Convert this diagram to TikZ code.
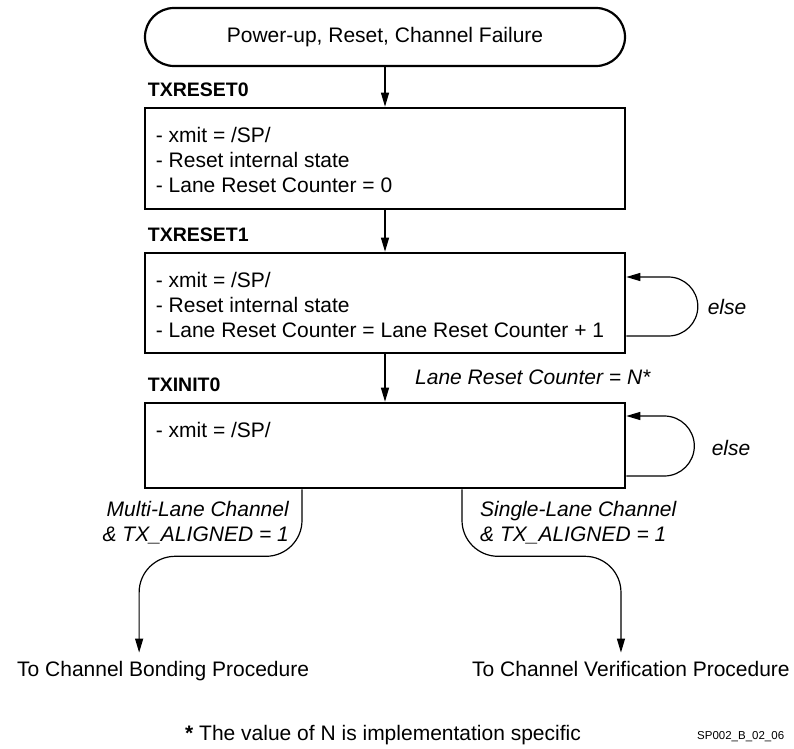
\documentclass[tikz,border=0pt]{standalone}
\usepackage{fontspec}
\setmainfont{Liberation Sans}
\usetikzlibrary{arrows.meta,positioning}
\tikzset{
  startbox/.style={draw, line width=2.2pt, rounded corners=29pt, minimum width=480pt, minimum height=58pt, font=\fontsize{21}{25}\selectfont},
  statebox/.style={draw, line width=2.6pt, minimum width=480pt, inner sep=0pt},
  boxtext/.style={align=left, inner sep=0pt, font=\fontsize{21}{25}\selectfont},
  statename/.style={inner sep=0pt, font=\fontsize{19.5}{23}\selectfont\bfseries},
  cond/.style={inner sep=0pt, font=\fontsize{21}{25}\selectfont\itshape},
  target/.style={inner xsep=0pt, inner ysep=8pt, font=\fontsize{21}{25}\selectfont},
  flow/.style={line width=1.2pt, -{Triangle[length=14pt,width=8pt]}},
}
\begin{document}
\begin{tikzpicture}[x=1pt,y=1pt]
\useasboundingbox (0,0) rectangle (794,748);
% entry
\node[startbox] (start) at (385,711) {Power-up, Reset, Channel Failure};
% states
\node[statebox, minimum height=101pt] (reset0) at (385,589.5) {};
\node[statebox, minimum height=100pt] (reset1) at (385,445) {};
\node[statebox, minimum height=85pt] (init0) at (385,302.5) {};
\node[statename, anchor=base west] (reset0name) at ([xshift=4pt,yshift=10pt]reset0.north west) {TXRESET0};
\node[statename, anchor=base west] (reset1name) at ([xshift=4pt,yshift=10pt]reset1.north west) {TXRESET1};
\node[statename, anchor=base west] (init0name) at ([xshift=4pt,yshift=10pt]init0.north west) {TXINIT0};
\node[boxtext, anchor=north west] (reset0text) at ([xshift=12pt,yshift=-20pt]reset0.north west) {- xmit = /SP/\\- Reset internal state\\- Lane Reset Counter = 0};
\node[boxtext, anchor=north west] (reset1text) at ([xshift=12pt,yshift=-20pt]reset1.north west) {- xmit = /SP/\\- Reset internal state\\- Lane Reset Counter = Lane Reset Counter + 1};
\node[boxtext, anchor=north west] (init0text) at ([xshift=12pt,yshift=-20pt]init0.north west) {- xmit = /SP/};
% transitions
\draw[flow] (start) -- (reset0);
\draw[flow] (reset0) -- (reset1);
\draw[flow] (reset1) -- (init0);
\node[cond, anchor=west] (count) at (415,371) {Lane Reset Counter = N*};
\draw[flow] ([yshift=-33pt]reset1.east) -- ++(42,0) arc[start angle=-90, end angle=90, radius=29.5] -- ([yshift=26pt]reset1.east);
\node[cond] (else1) at (727,441) {else};
\draw[flow] ([yshift=-30.5pt]init0.east) -- ++(38,0) arc[start angle=-90, end angle=90, radius=30] -- ([yshift=29.5pt]init0.east);
\node[cond] (else2) at (731,300) {else};
% exits
\node[target, anchor=base west] (bond) at (17,72) {To Channel Bonding Procedure};
\node[target, anchor=base west] (verify) at (472,72) {To Channel Verification Procedure};
\draw[flow, rounded corners=36pt] ([xshift=-83pt]init0.south) -- ++(0,-67) -| ([xshift=-24pt]bond.north);
\draw[flow, rounded corners=36pt] ([xshift=77pt]init0.south) -- ++(0,-67) -| ([xshift=-10pt]verify.north);
\node[cond, align=right, anchor=east] (multi) at (289,225) {Multi-Lane Channel\\\& TX\_ALIGNED = 1};
\node[cond, align=left, anchor=west] (single) at (480,225) {Single-Lane Channel\\\& TX\_ALIGNED = 1};
% footnote
\node[anchor=west, inner sep=0pt, font=\fontsize{21}{25}\selectfont] (note) at (185,13) {\textbf{*} The value of N is implementation specific};
\node[anchor=west, inner sep=0pt, font=\fontsize{11.5}{13}\selectfont] (figid) at (697,11) {SP002\_B\_02\_06};
\end{tikzpicture}
\end{document}
